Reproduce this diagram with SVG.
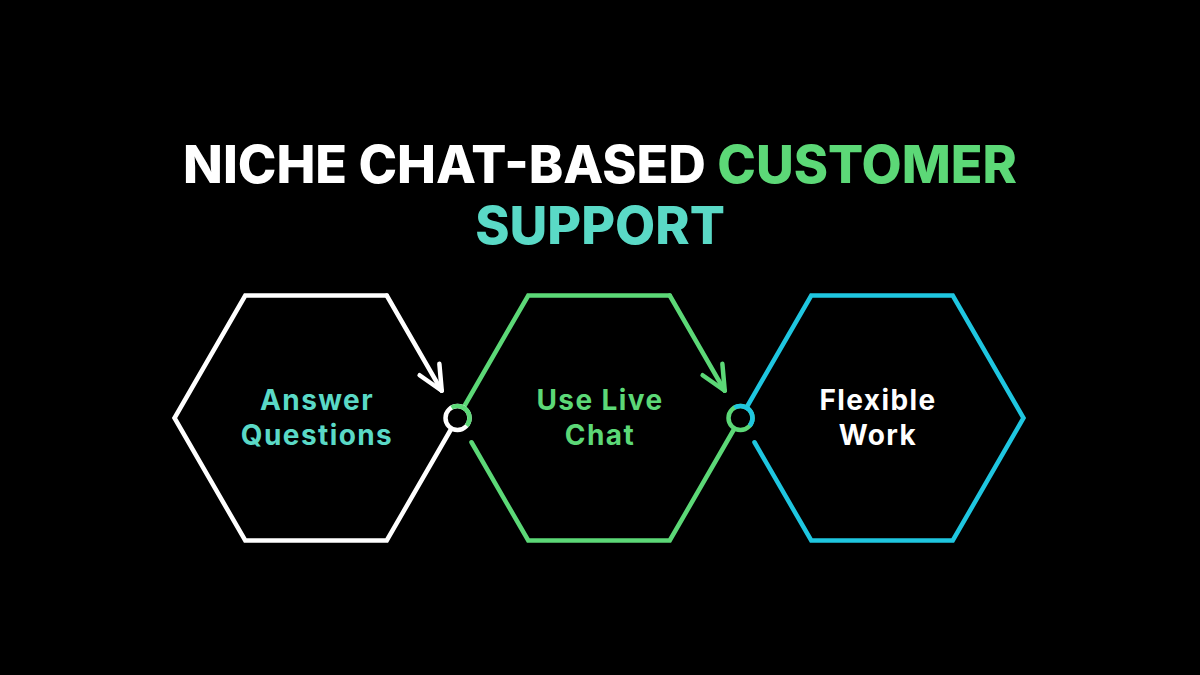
<svg xmlns="http://www.w3.org/2000/svg" width="1200" height="675" viewBox="0 0 1200 675">
<defs>
<style>
.hex{fill:none;stroke-width:4.5;stroke-linecap:round;stroke-linejoin:miter}
.title{font-family:Inter,"Liberation Sans",sans-serif;font-weight:800;font-size:52px;text-anchor:middle}
.lbl{font-family:Inter,"Liberation Sans",sans-serif;font-weight:700;font-size:28px;text-anchor:middle;letter-spacing:1.4px}
.dot{fill:#000;stroke-width:4.5}
.arc{fill:none;stroke-width:4.5}
</style>
<marker id="arrW" markerUnits="userSpaceOnUse" markerWidth="40" markerHeight="40" viewBox="-30 -20 40 40" refX="0" refY="0" orient="auto">
<path d="M -24.5 -11.4 L 0 0 L -24.5 11.4" fill="none" stroke="#ffffff" stroke-width="4.5" stroke-linecap="round" stroke-linejoin="round"/>
</marker>
<marker id="arrG" markerUnits="userSpaceOnUse" markerWidth="40" markerHeight="40" viewBox="-30 -20 40 40" refX="0" refY="0" orient="auto">
<path d="M -24.5 -11.4 L 0 0 L -24.5 11.4" fill="none" stroke="#5cd877" stroke-width="4.5" stroke-linecap="round" stroke-linejoin="round"/>
</marker>
</defs>
<rect x="0" y="0" width="1200" height="675" fill="#000"/>
<g id="title">
<text class="title" x="600" y="183"><tspan fill="#ffffff">NICHE CHAT-BASED </tspan><tspan fill="#5cd877">CUSTOMER</tspan></text>
<text class="title" x="600" y="244" fill="#5ad9c6">SUPPORT</text>
</g>
<g id="node-answer-questions">
<path class="hex" stroke="#ffffff" d="M 386.75 295.5 L 245.25 295.5 L 174.5 418 L 245.25 540.5 L 386.75 540.5 L 457.5 418"/>
<text class="lbl" x="317" y="410" fill="#5ad9c6">Answer</text>
<text class="lbl" x="317" y="445" fill="#5ad9c6">Questions</text>
</g>
<g id="node-use-live-chat">
<path class="hex" stroke="#5cd877" d="M 457.5 418 L 528.25 295.5 L 669.75 295.5 M 471.5 442.25 L 528.25 540.5 L 669.75 540.5 L 740.5 418"/>
<text class="lbl" x="600" y="410" fill="#5cd877">Use Live</text>
<text class="lbl" x="600" y="445" fill="#5cd877">Chat</text>
</g>
<g id="node-flexible-work">
<path class="hex" stroke="#1fc6e0" d="M 740.5 418 L 811.25 295.5 L 952.75 295.5 L 1023.5 418 L 952.75 540.5 L 811.25 540.5 L 754.5 442.25"/>
<text class="lbl" x="878" y="410" fill="#ffffff">Flexible</text>
<text class="lbl" x="878" y="445" fill="#ffffff">Work</text>
</g>
<g id="connectors">
<path class="hex" stroke="#ffffff" d="M 386.75 295.5 L 441.75 390.76" marker-end="url(#arrW)"/>
<path class="hex" stroke="#5cd877" d="M 669.75 295.5 L 724.75 390.76" marker-end="url(#arrG)"/>
<circle class="dot" cx="457.5" cy="418" r="12" stroke="#ffffff"/>
<path class="arc" stroke="#5cd877" d="M 451.5 407.6 A 12 12 0 0 1 466.7 425.7"/>
<circle class="dot" cx="740.5" cy="418" r="12" stroke="#5cd877"/>
<path class="arc" stroke="#1fc6e0" d="M 734.5 407.6 A 12 12 0 0 1 749.7 425.7"/>
</g>
</svg>
